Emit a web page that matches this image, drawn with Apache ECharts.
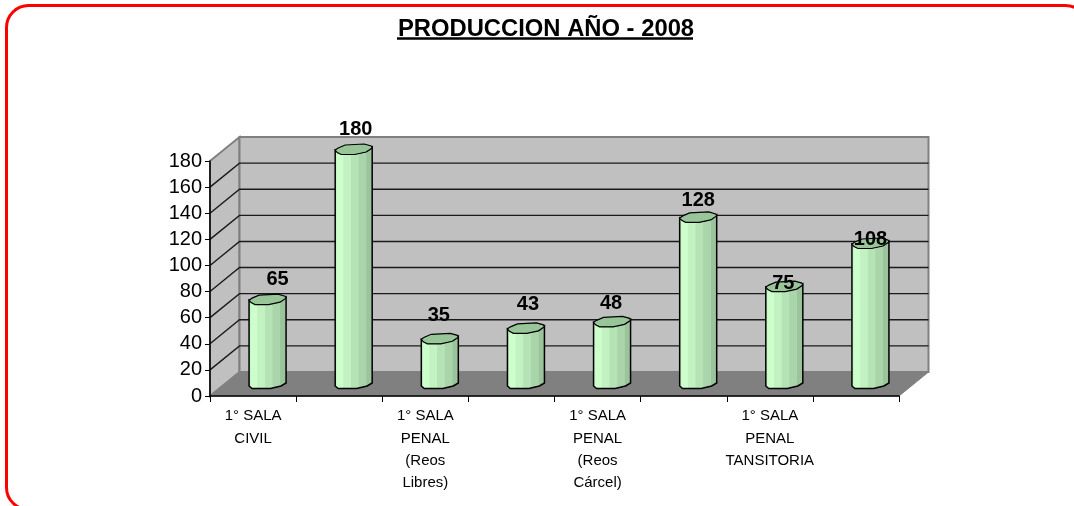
<!DOCTYPE html>
<html><head><meta charset="utf-8">
<style>html,body{margin:0;padding:0;background:#fff}#c{width:1074px;height:506px}</style>
<script src="https://cdn.jsdelivr.net/npm/echarts@6/dist/echarts.min.js"></script></head>
<body><div id="c"></div>
<script>
const categories = ['1° SALA\nCIVIL','','1° SALA\nPENAL\n(Reos\nLibres)','','1° SALA\nPENAL\n(Reos\nCárcel)','','1° SALA\nPENAL\nTANSITORIA',''];
const values = [65,180,35,43,48,128,75,108];
const yTicks = [0,20,40,60,80,100,120,140,160,180];
const titleText = 'PRODUCCION AÑO - 2008';
// hand nudges of the value labels relative to the bar top (layout, not data)
const labelNudgeX = [10,2,-1,2,-1,0,-1,0];
const labelNudgeY = [-21,-21,-24,-24,-19,-17,-4,-5];

const DX = 29.5, DY = -24;
const font = 'Liberation Sans, Arial, sans-serif';
const chart = echarts.init(document.getElementById('c'), null, {renderer:'canvas'});

function shell(params, api){
  const r = params.coordSys;
  const L=r.x, R=r.x+r.width, T=r.y, B=r.y+r.height;
  const kids = [
    {type:'polygon',shape:{points:[[L,T],[L+DX,T+DY],[L+DX,B+DY],[L,B]]},style:{fill:'#c0c0c0',stroke:'#808080',lineWidth:2}},
    {type:'rect',shape:{x:L+DX,y:T+DY,width:r.width,height:r.height},style:{fill:'#c0c0c0',stroke:'#808080',lineWidth:2}},
    {type:'polygon',shape:{points:[[L,B],[L+DX,B+DY],[R+DX,B+DY],[R,B]]},style:{fill:'#808080',stroke:'#808080',lineWidth:1}}
  ];
  yTicks.forEach(t=>{
    if(t===0||t===yTicks[yTicks.length-1]) return;
    const y = api.coord([0,t])[1];
    kids.push({type:'polyline',shape:{points:[[L,y],[L+DX,y+DY],[R+DX,y+DY]]},style:{fill:null,stroke:'#1a1a1a',lineWidth:1.4}});
  });
  return {type:'group',children:kids};
}
function bar(params, api){
  const i = api.value(0), v = api.value(1);
  const top = api.coord([i,v]), base = api.coord([i,0]);
  const cx = top[0]+DX/2-0.25, ty = top[1]+DY/2+1, by = base[1]+DY/2-1;
  const w = 18.5;
  const grad = new echarts.graphic.LinearGradient(0,0,1,0,[
    {offset:0,color:'#b8e6b8'},{offset:0.08,color:'#ccffcc'},{offset:0.22,color:'#ccffcc'},
    {offset:0.24,color:'#c2f2c2'},{offset:0.42,color:'#c2f2c2'},{offset:0.44,color:'#b5e3b5'},
    {offset:0.62,color:'#b5e3b5'},{offset:0.64,color:'#aad5aa'},{offset:0.82,color:'#aad5aa'},
    {offset:0.84,color:'#9cc49c'},{offset:1,color:'#9cc49c'}]);
  const body = [[cx-w,ty],[cx-w,by+3],[cx-w+3,by+5.5],[cx+3,by+5.5],[cx+w-5,by+3],[cx+w,by],[cx+w,ty-3],[cx+w-5,ty+1],[cx,ty+4],[cx-w+7,ty+4]];
  const cap = [[cx-w,ty],[cx-w+3,ty-2],[cx-w+10,ty-5],[cx+w-8,ty-6],[cx+w-1,ty-4],[cx+w,ty-2],[cx+w-6,ty+2],[cx+1,ty+4.5],[cx-w+6,ty+4.5],[cx-w+2,ty+2.5]];
  return {type:'group',children:[
    {type:'polygon',shape:{points:body},style:{fill:grad,stroke:'#000',lineWidth:1.5}},
    {type:'polygon',shape:{points:cap},style:{fill:'#99c699',stroke:'#000',lineWidth:1.2}},
    {type:'text',style:{text:String(v),x:cx+labelNudgeX[i],y:ty+labelNudgeY[i],align:'center',verticalAlign:'middle',fill:'#000',font:'bold 20px '+font}}
  ]};
}

chart.setOption({
  animation:false,
  backgroundColor:'#fff',
  title:{text:titleText,left:545,top:9,textAlign:'center',textStyle:{fontFamily:font,fontWeight:'bold',fontSize:23.8,color:'#000',lineHeight:30}},
  graphic:[
    {type:'rect',z:100,shape:{x:6.5,y:5.5,width:1081,height:504,r:22},style:{fill:null,stroke:'#ff0000',lineWidth:3}},
    {type:'line',z:100,shape:{x1:397,y1:38.5,x2:693,y2:38.5},style:{stroke:'#000',lineWidth:2.5}}
  ],
  grid:{left:210,top:161,width:689,height:235,containLabel:false},
  xAxis:{type:'category',data:categories,z:5,
    axisLine:{lineStyle:{color:'#000',width:1.5}},
    axisTick:{show:true,alignWithLabel:false,length:6,lineStyle:{color:'#000'}},
    axisLabel:{interval:0,color:'#000',fontFamily:font,fontSize:15,lineHeight:22.3,margin:9}},
  yAxis:{type:'value',min:0,max:180,interval:20,z:5,
    axisLine:{show:true,lineStyle:{color:'#000',width:1.5}},
    axisTick:{show:true,length:5,lineStyle:{color:'#000'}},
    splitLine:{show:false},
    axisLabel:{color:'#000',fontFamily:font,fontSize:20,margin:8}},
  series:[
    {type:'custom',name:'shell',z:1,silent:true,data:[[0,0]],renderItem:shell,clip:false},
    {type:'custom',name:'Produccion',z:2,silent:true,data:values.map((v,i)=>[i,v]),encode:{x:0,y:1},renderItem:bar,clip:false}
  ]
});
// title text centred on its underline
chart.setOption({title:{left:541}});
</script></body></html>
